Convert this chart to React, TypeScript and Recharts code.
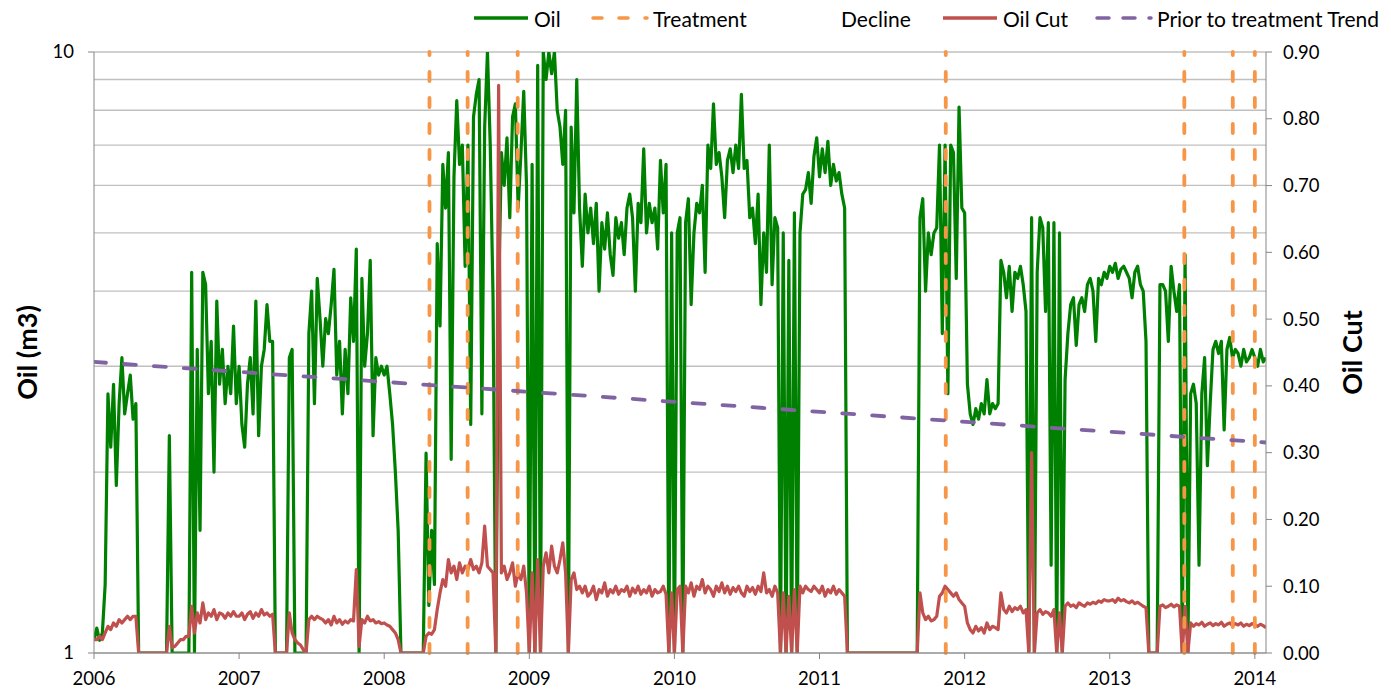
import {
  CartesianGrid,
  ComposedChart,
  Line,
  ReferenceLine,
  XAxis,
  YAxis,
} from "recharts";

const START = 2006;
const WEEKS = 52;

// weekly oil rate (m3); 1 = shut in
const OIL_2006 = [
  1.05, 1.1, 1.05, 1.08, 1.3, 2.7, 2.2, 2.8, 1.9, 2.6,
  3.1, 2.5, 2.7, 2.9, 2.45, 2.6, 1, 1, 1, 1,
  1, 1, 1, 1, 1, 1, 1, 2.3, 1, 1,
  1, 1, 1, 1, 1, 4.3, 1, 3.2, 1.6, 4.3,
  4.1, 2.7, 3.3, 2.0, 3.85, 2.8, 3.2, 2.6, 3.0, 2.7,
  3.5, 2.6,
];
const OIL_2007 = [
  3.0, 2.4, 2.2, 2.8, 3.1, 2.5, 3.85, 2.3, 3.0, 3.2,
  3.8, 3.3, 3.3, 1, 1, 1, 1, 1, 3.1, 3.2,
  1, 1, 1, 1, 1, 3.4, 4.0, 2.6, 4.2, 3.6,
  3.0, 3.6, 3.4, 3.8, 4.35, 2.9, 3.3, 2.5, 3.2, 2.7,
  3.9, 3.3, 4.7, 1, 4.2, 3.0, 3.4, 4.5, 2.3, 3.1,
  2.9, 3.0,
];
const OIL_2008 = [
  2.9, 3.0, 2.7, 2.4, 2.0, 1.6, 1, 1, 1, 1,
  1, 1, 1, 1, 1, 2.15, 1.2, 1.6, 1.3, 4.8,
  3.5, 6.5, 5.5, 6.8, 2.1, 6.2, 8.3, 6.5, 7.0, 4.4,
  7.0, 2.4, 7.8, 8.5, 9.0, 2.5, 7.5, 10, 7.0, 3.9,
  1, 3.9, 6.8, 6.0, 7.2, 5.3, 7.8, 8.2, 5.5, 6.8,
  8.6, 6.0,
];
const OIL_2009 = [
  1, 6.5, 1, 9.5, 1, 10, 9.0, 10, 9.2, 10,
  8.0, 7.5, 6.5, 8.0, 1, 7.5, 5.4, 9.0, 5.5, 4.4,
  5.8, 5.0, 5.5, 4.8, 5.6, 4.0, 5.2, 4.7, 5.4, 4.6,
  4.25, 5.3, 4.9, 5.2, 4.6, 5.5, 5.8, 5.3, 4.0, 5.6,
  5.2, 6.9, 5.0, 5.6, 5.2, 5.5, 4.7, 6.6, 5.4, 6.5,
  1, 5.0,
];
const OIL_2010 = [
  1, 5.0, 5.3, 1, 5.2, 5.7, 3.8, 5.0, 5.6, 5.4,
  6.0, 4.3, 7.0, 6.4, 8.2, 6.5, 6.8, 6.2, 5.3, 6.6,
  6.9, 6.3, 7.0, 6.4, 8.5, 6.4, 6.6, 5.3, 5.5, 4.8,
  5.8, 3.8, 5.0, 4.3, 7.0, 4.1, 5.3, 5.1, 1, 5.0,
  1, 4.5, 1, 5.4, 1, 5.0, 5.8, 5.9, 6.3, 5.6,
  6.7, 7.2,
];
const OIL_2011 = [
  6.2, 6.9, 6.3, 7.1, 6.0, 6.5, 6.1, 6.3, 5.8, 5.5,
  1, 1, 1, 1, 1, 1, 1, 1, 1, 1,
  1, 1, 1, 1, 1, 1, 1, 1, 1, 1,
  1, 1, 1, 1, 1, 1, 5.3, 5.7, 4.0, 5.0,
  4.6, 5.0, 5.1, 7.0, 3.4, 7.0, 2.7, 7.0, 6.8, 4.2,
  8.1, 5.5,
];
const OIL_2012 = [
  5.4, 2.8, 2.5, 2.4, 2.55, 2.45, 2.6, 2.5, 2.85, 2.5,
  2.6, 2.55, 2.6, 4.5, 4.3, 3.9, 4.4, 3.7, 4.3, 4.2,
  4.4, 4.1, 3.7, 1, 5.3, 1, 4.3, 5.3, 5.1, 3.7,
  5.2, 1.4, 5.2, 1, 5.0, 1, 2.85, 3.4, 3.8, 3.9,
  3.25, 3.8, 3.9, 3.7, 4.1, 4.2, 4.0, 3.3, 4.2, 4.1,
  4.3, 4.2,
];
const OIL_2013 = [
  4.4, 4.3, 4.45, 4.2, 4.35, 4.4, 4.3, 4.2, 3.9, 4.3,
  4.4, 4.1, 4.0, 3.3, 1, 1, 1, 1, 4.1, 4.1,
  4.0, 3.3, 4.4, 4.0, 3.7, 4.1, 1, 4.6, 1, 2.7,
  2.8, 2.6, 1.4, 2.7, 3.1, 2.05, 2.6, 3.2, 3.3, 3.15,
  3.3, 2.35, 3.2, 3.35, 3.1, 3.2, 3.15, 3.0, 3.2, 3.05,
  3.1, 3.2,
];
const OIL_2014 = [3.1, 3.0, 3.2, 3.05, 3.1];

// weekly oil cut
const CUT_2006 = [
  0.02, 0.02, 0.025, 0.02, 0.03, 0.04, 0.035, 0.045, 0.04, 0.05,
  0.045, 0.05, 0.055, 0.05, 0.055, 0.055, 0, 0, 0, 0,
  0, 0, 0, 0, 0, 0, 0, 0.04, 0.008, 0.01,
  0.015, 0.02, 0.02, 0.025, 0.025, 0.07, 0.03, 0.06, 0.045, 0.075,
  0.05, 0.06, 0.055, 0.065, 0.05, 0.06, 0.058, 0.052, 0.06, 0.055,
  0.062, 0.055,
];
const CUT_2007 = [
  0.055, 0.06, 0.05, 0.058, 0.062, 0.052, 0.06, 0.055, 0.065, 0.057,
  0.06, 0.055, 0.058, 0, 0, 0, 0, 0, 0.06, 0.03,
  0.02, 0.015, 0.012, 0.005, 0, 0.05, 0.055, 0.05, 0.055, 0.052,
  0.05, 0.045, 0.05, 0.042, 0.055, 0.045, 0.05, 0.043, 0.048, 0.045,
  0.05, 0.048, 0.125, 0.01, 0.05, 0.045, 0.055, 0.048, 0.05, 0.045,
  0.047, 0.044,
];
const CUT_2008 = [
  0.045, 0.042, 0.04, 0.035, 0.03, 0.02, 0, 0, 0, 0,
  0, 0, 0, 0, 0, 0.025, 0.03, 0.028, 0.035, 0.065,
  0.09, 0.11, 0.1, 0.14, 0.12, 0.13, 0.11, 0.135, 0.12, 0.13,
  0.125, 0.14, 0.125, 0.13, 0.12, 0.135, 0.19, 0.13, 0.125, 0.12,
  0, 0.85, 0.12, 0.13, 0.11, 0.12, 0.135, 0.1, 0.12, 0.11,
  0.13, 0.09,
];
const CUT_2009 = [
  0, 0.12, 0, 0.14, 0, 0.13, 0.15, 0.12, 0.16, 0.13,
  0.12, 0.14, 0.165, 0.12, 0, 0.11, 0.12, 0.095, 0.1, 0.09,
  0.1, 0.085, 0.09, 0.1, 0.08, 0.095, 0.09, 0.105, 0.085, 0.095,
  0.09, 0.1, 0.088, 0.095, 0.092, 0.1, 0.085, 0.097, 0.09, 0.1,
  0.088, 0.095, 0.09, 0.1, 0.085, 0.095, 0.09, 0.092, 0.1, 0.088,
  0, 0.09,
];
const CUT_2010 = [
  0, 0.095, 0.1, 0, 0.1, 0.09, 0.105, 0.085, 0.1, 0.095,
  0.11, 0.09, 0.1, 0.095, 0.085, 0.1, 0.092, 0.105, 0.09, 0.1,
  0.088, 0.098, 0.092, 0.1, 0.09, 0.085, 0.1, 0.092, 0.098, 0.088,
  0.1, 0.092, 0.12, 0.09, 0.095, 0.085, 0.1, 0.09, 0, 0.09,
  0, 0.085, 0, 0.095, 0, 0.1, 0.09, 0.1, 0.095, 0.092,
  0.1, 0.095,
];
const CUT_2011 = [
  0.09, 0.1, 0.085, 0.095, 0.09, 0.1, 0.088, 0.095, 0.09, 0.085,
  0, 0, 0, 0, 0, 0, 0, 0, 0, 0,
  0, 0, 0, 0, 0, 0, 0, 0, 0, 0,
  0, 0, 0, 0, 0, 0, 0.09, 0.06, 0.05, 0.055,
  0.048, 0.05, 0.055, 0.085, 0.09, 0.1, 0.095, 0.09, 0.085, 0.09,
  0.08, 0.075,
];
const CUT_2012 = [
  0.07, 0.045, 0.035, 0.03, 0.04, 0.033, 0.038, 0.03, 0.045, 0.035,
  0.04, 0.038, 0.035, 0.09, 0.065, 0.06, 0.07, 0.062, 0.068, 0.065,
  0.07, 0.06, 0.065, 0, 0.3, 0, 0.06, 0.065, 0.058, 0.062,
  0.06, 0.055, 0.065, 0, 0.06, 0, 0.07, 0.075, 0.07, 0.072,
  0.068, 0.075, 0.072, 0.07, 0.075, 0.073, 0.076, 0.074, 0.078, 0.076,
  0.08, 0.078,
];
const CUT_2013 = [
  0.078, 0.08, 0.076, 0.082, 0.078, 0.08, 0.077, 0.075, 0.078, 0.074,
  0.076, 0.073, 0.07, 0.068, 0, 0, 0, 0, 0.07, 0.072,
  0.068, 0.07, 0.073, 0.069, 0.072, 0.07, 0, 0.07, 0, 0.045,
  0.04, 0.044, 0.042, 0.046, 0.04, 0.043, 0.045, 0.041, 0.044, 0.042,
  0.046, 0.04, 0.043, 0.045, 0.041, 0.044, 0.042, 0.045, 0.04, 0.043,
  0.041, 0.044,
];
const CUT_2014 = [0.042, 0.04, 0.043, 0.041, 0.038];

const TREATMENTS = [2008.312, 2008.575, 2008.92, 2011.87, 2013.514, 2013.848, 2014.0];
const TREND = [3.05, 2.24]; // start / end of the pre-treatment decline
const YEAR_TICKS = [2006, 2007, 2008, 2009, 2010, 2011, 2012, 2013, 2014];
const OIL_TICKS = [1, 2, 3, 4, 5, 6, 7, 8, 9, 10];
const CUT_TICKS = [0, 0.1, 0.2, 0.3, 0.4, 0.5, 0.6, 0.7, 0.8, 0.9];

const OIL = [
  ...OIL_2006, ...OIL_2007, ...OIL_2008, ...OIL_2009, ...OIL_2010,
  ...OIL_2011, ...OIL_2012, ...OIL_2013, ...OIL_2014,
];
const CUT = [
  ...CUT_2006, ...CUT_2007, ...CUT_2008, ...CUT_2009, ...CUT_2010,
  ...CUT_2011, ...CUT_2012, ...CUT_2013, ...CUT_2014,
];
const END = START + (OIL.length - 1) / WEEKS;

const rows = OIL.map((oil, i) => ({
  t: START + i / WEEKS,
  oil,
  cut: CUT[i],
  trend: i === 0 ? TREND[0] : i === OIL.length - 1 ? TREND[1] : null,
}));

const GREEN = "#008000";
const RED = "#c0504d";
const ORANGE = "#f79646";
const PURPLE = "#8064a2";
const AXIS = "#868686";
const GRID = "#c0c0c0";
const TICK_FONT = { fontSize: 18.5, fill: "#000" };
const TITLE_STYLE = { textAnchor: "middle", fontSize: 27, fontWeight: 700, fill: "#000" };

const LEGEND = [
  { label: "Oil", color: GREEN, dash: undefined, x: 471 },
  { label: "Treatment", color: ORANGE, dash: "9 17", x: 590 },
  { label: "Decline", color: "transparent", dash: undefined, x: 778 },
  { label: "Oil Cut", color: RED, dash: undefined, x: 940 },
  { label: "Prior to treatment Trend", color: PURPLE, dash: "12 14", x: 1094 },
];

function OilTick(props: any) {
  const { x, y, payload } = props;
  if (payload.value !== 1 && payload.value !== 10) return <g />;
  return (
    <g>
      <line x1={x + 14} x2={x + 20} y1={y} y2={y} stroke={AXIS} />
      <text x={x} y={y} dy="0.35em" textAnchor="end" {...TICK_FONT}>
        {payload.value}
      </text>
    </g>
  );
}

function LegendRow() {
  return (
    <div style={{ position: "absolute", left: 0, top: 0, width: 1391, height: 36 }}>
      {LEGEND.map((item) => (
        <div key={item.label} style={{ position: "absolute", left: item.x, top: 6, height: 24, display: "flex", alignItems: "center" }}>
          <svg width={60} height={24}>
            <line
              x1={3}
              x2={57}
              y1={12}
              y2={12}
              stroke={item.color}
              strokeWidth={3.5}
              strokeDasharray={item.dash}
              strokeLinecap={item.dash ? "round" : "butt"}
            />
          </svg>
          <span style={{ marginLeft: 3, fontSize: 21, color: "#000", whiteSpace: "nowrap" }}>{item.label}</span>
        </div>
      ))}
    </div>
  );
}

export default function App() {
  return (
    <div style={{ position: "absolute", left: 0, top: 0, width: 1391, height: 692, background: "#fff", fontFamily: "Lato, sans-serif" }}>
      <LegendRow />
      <ComposedChart width={1391} height={692} data={rows} margin={{ top: 52, right: 0, bottom: 0, left: 0 }}>
        <CartesianGrid yAxisId="oil" vertical={false} stroke={GRID} strokeWidth={1.3} />
        <XAxis
          dataKey="t"
          type="number"
          domain={[START, END]}
          ticks={YEAR_TICKS}
          height={39}
          stroke={AXIS}
          tickSize={6}
          tickMargin={13}
          tick={TICK_FONT}
          allowDataOverflow
        />
        <YAxis
          yAxisId="oil"
          type="number"
          scale="log"
          domain={[1, 10]}
          ticks={OIL_TICKS}
          width={94}
          stroke={AXIS}
          tickLine={false}
          tickSize={0}
          tickMargin={20}
          tick={<OilTick />}
          allowDataOverflow
          label={{ value: "Oil (m3)", angle: -90, position: "insideLeft", offset: 27, style: TITLE_STYLE }}
        />
        <YAxis
          yAxisId="cut"
          orientation="right"
          type="number"
          domain={[0, 0.9]}
          ticks={CUT_TICKS}
          width={125}
          stroke={AXIS}
          tickSize={6}
          tickMargin={11}
          tick={TICK_FONT}
          tickFormatter={(v: number) => v.toFixed(2)}
          allowDataOverflow
          label={{ value: "Oil Cut", angle: -90, position: "insideRight", offset: 39, style: TITLE_STYLE }}
        />
        <Line
          yAxisId="oil"
          dataKey="oil"
          type="linear"
          stroke={GREEN}
          strokeWidth={3.2}
          strokeLinejoin="round"
          dot={false}
          activeDot={false}
          isAnimationActive={false}
        />
        <Line
          yAxisId="cut"
          dataKey="cut"
          type="linear"
          stroke={RED}
          strokeWidth={3.2}
          strokeLinejoin="round"
          dot={false}
          activeDot={false}
          isAnimationActive={false}
        />
        {TREATMENTS.map((t) => (
          <ReferenceLine
            key={t}
            yAxisId="oil"
            x={t}
            stroke={ORANGE}
            strokeWidth={3.8}
            strokeDasharray="9 17"
            strokeLinecap="round"
          />
        ))}
        <Line
          yAxisId="oil"
          dataKey="trend"
          type="linear"
          connectNulls
          stroke={PURPLE}
          strokeWidth={3.8}
          strokeDasharray="12 18"
          strokeLinecap="round"
          dot={false}
          activeDot={false}
          isAnimationActive={false}
        />
      </ComposedChart>
    </div>
  );
}
